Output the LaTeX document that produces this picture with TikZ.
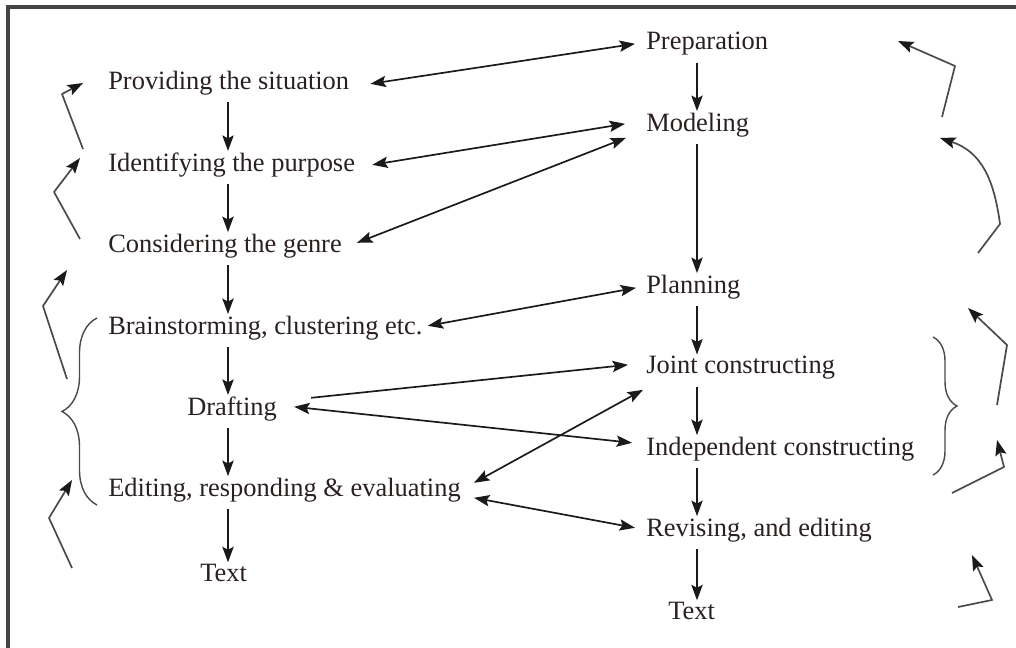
\documentclass[tikz,border=0pt]{standalone}
\usepackage{fontspec}
\setmainfont{Liberation Serif}
\usepackage{tikz}
\usetikzlibrary{arrows.meta,positioning,calc,decorations.pathreplacing}
\definecolor{figtext}{HTML}{2A2020}
\definecolor{figline}{HTML}{1A1A1A}
\definecolor{figgrey}{HTML}{4A4A4A}
\definecolor{figframe}{HTML}{444444}

\begin{document}
\begin{tikzpicture}[x=0.025cm,y=-0.025cm,
  stage/.style={anchor=west, inner sep=0pt, yshift=-2pt, text=figtext, font=\fontsize{18.8}{22}\selectfont},
  flow/.style={draw=figline, line width=1.2pt, -{Stealth[length=11pt,width=8pt,inset=2pt]}},
  twoway/.style={flow, {Stealth[length=11pt,width=8pt,inset=2pt]}-{Stealth[length=11pt,width=8pt,inset=2pt]}},
  stepdown/.style={flow, shorten <=5pt, shorten >=1pt},
  loopback/.style={draw=figgrey, line width=1.2pt, line join=round, -{Stealth[length=11pt,width=8pt,inset=2pt,color=figline]}},
  bracket/.style={draw=figgrey, line width=1pt, decorate, decoration={brace, amplitude=#1}}
]
\useasboundingbox (0,0) rectangle (1016,648);

% frame (only top and left edges are visible)
\draw[figframe, line width=2.6pt] (8,648) -- (8,7) -- (1016,7);

% left column
\node[stage] (prov)  at (108,80)  {Providing the situation};
\node[stage] (ident) at (108,162) {Identifying the purpose};
\node[stage] (genre) at (108,243) {Considering the genre};
\node[stage] (brain) at (108,325) {Brainstorming, clustering etc.};
\node[stage] (draft) at (187,406) {Drafting};
\node[stage] (edit)  at (108,487) {Editing, responding \& evaluating};
\node[stage] (textL) at (200,570) {Text};

% right column
\node[stage] (prep)   at (646,41)  {Preparation};
\node[stage] (model)  at (646,122) {Modeling};
\node[stage] (plan)   at (646,284) {Planning};
\node[stage] (joint)  at (646,365) {Joint constructing};
\node[stage] (indep)  at (646,446) {Independent constructing};
\node[stage] (revise) at (646,527) {Revising, and editing};
\node[stage] (textR)  at (668,608) {Text};

\coordinate (lcol) at (228,0);
\coordinate (rcol) at (697,0);

% downward steps
\draw[stepdown] (prov.south -| lcol) -- (ident.north -| lcol);
\draw[stepdown] (ident.south -| lcol) -- (genre.north -| lcol);
\draw[stepdown] (genre.south -| lcol) -- (brain.north -| lcol);
\draw[stepdown] (brain.south -| lcol) -- (draft.north -| lcol);
\draw[stepdown] (draft.south -| lcol) -- (edit.north -| lcol);
\draw[stepdown] (edit.south -| lcol) -- (textL.north -| lcol);

\draw[stepdown] (prep.south -| rcol) -- (model.north -| rcol);
\draw[stepdown] (model.south -| rcol) -- (plan.north -| rcol);
\draw[stepdown] (plan.south -| rcol) -- (joint.north -| rcol);
\draw[stepdown] (joint.south -| rcol) -- (indep.north -| rcol);
\draw[stepdown] (indep.south -| rcol) -- (revise.north -| rcol);
\draw[stepdown] (revise.south -| rcol) -- (textR.north -| rcol);

% links between the two cycles
\draw[twoway] ($(prov.east)+(21,1)$) -- ($(prep.west)+(-11,0)$);
\draw[twoway] ($(ident.east)+(17,0)$) -- ($(model.west)+(-21,-1)$);
\draw[twoway] ($(genre.east)+(15,-3)$) -- ($(model.west)+(-20,13)$);
\draw[twoway] ($(brain.east)+(5,-2)$) -- ($(plan.west)+(-10,1)$);
\draw[flow]   ($(draft.east)+(34,-11)$) -- ($(joint.west)+(-18,-3)$);
\draw[twoway] ($(draft.east)+(17,-2)$) -- ($(indep.west)+(-14,-6)$);
\draw[twoway] ($(edit.east)+(13,-7)$) -- ($(joint.west)+(-3,22)$);
\draw[twoway] ($(edit.east)+(13,8)$) -- ($(revise.west)+(-11,-2)$);

% braces
\draw[bracket=0.875cm] (97,505) -- (97,318);
\draw[bracket=0.6cm] (933,337) -- (933,475);

% return arrows, left side
\draw[loopback] (83,149) -- (62,94) -- (83,83);
\draw[loopback] (80,239) -- (54,192) -- (80,158);
\draw[loopback] (67,379) -- (43,306) -- (67,270);
\draw[loopback] (72,568) -- (49,518) -- (72,480);

% return arrows, right side
\draw[loopback] (942,117) -- (955,66) -- (898,41);
\draw[loopback] (978,253) -- (1000,224) .. controls (994,180) and (982,152) .. (940,138);
\draw[loopback] (997,405) -- (1007,345) -- (968,308);
\draw[loopback] (952,493) -- (1004,467) -- (997,440);
\draw[loopback] (958,607) -- (992,600) -- (972,555);
\end{tikzpicture}
\end{document}
